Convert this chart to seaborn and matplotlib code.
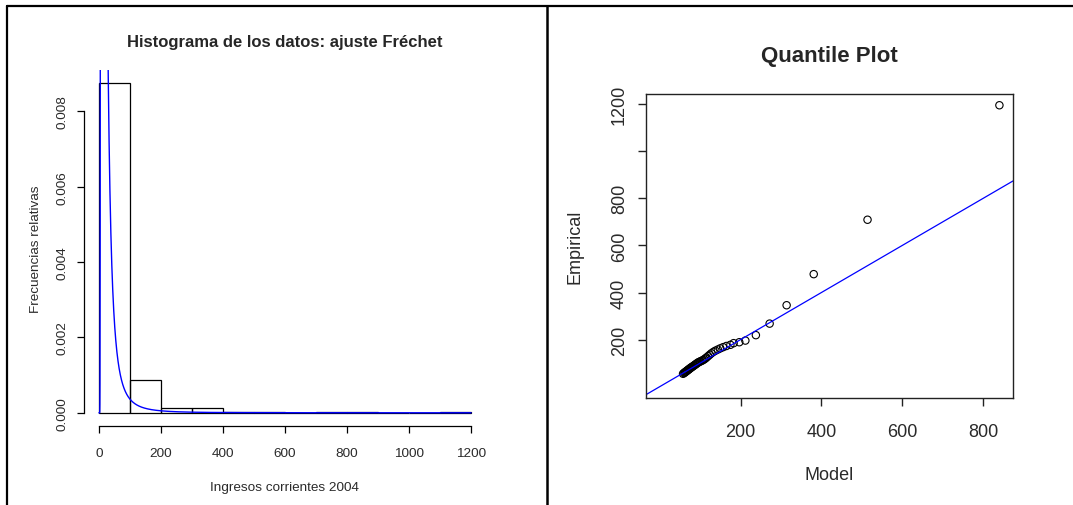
import numpy as np
import pandas as pd
import matplotlib
matplotlib.use("Agg")
import matplotlib.pyplot as plt
from matplotlib.lines import Line2D
import seaborn as sns

sns.set_theme(style="white")
plt.rcParams["font.family"] = ["Liberation Sans", "DejaVu Sans"]

# Histogram of incomes (relative frequency density per bin)
bin_edges = [0, 100, 200, 300, 400, 500, 600, 700, 800, 900, 1000, 1100, 1200]
bin_density = [0.00875, 0.00086, 0.00013, 0.00013, 0.00003, 0.00003,
               0.0, 0.00003, 0.00003, 0.0, 0.0, 0.00003]

# Fitted Fréchet parameters
frechet_shape = 1.8
frechet_scale = 11.6

# Quantile plot: model quantiles vs empirical quantiles
model_q = [58, 60, 62, 63, 65, 66, 68, 69, 71, 72, 74, 75, 77, 78, 80, 82,
           84, 86, 88, 90, 92, 94, 96, 99, 101, 104, 107, 110, 113, 116, 120,
           124, 128, 133, 138, 144, 150, 157, 165, 175, 183, 197, 212, 238,
           272, 314, 381, 514, 840]
empirical_q = [55, 58, 60, 62, 64, 66, 68, 70, 72, 74, 76, 78, 80, 82, 84, 86,
               89, 91, 94, 96, 99, 101, 104, 106, 108, 110, 113, 116, 120, 124,
               130, 136, 142, 148, 153, 158, 163, 168, 173, 178, 185, 189, 196,
               219, 268, 346, 478, 709, 1195]

W, H = 1073, 506
fig = plt.figure(figsize=(W / 100, H / 100), dpi=100)

def frac_box(x0, x1, y0, y1):
    return [x0 / W, 1 - y1 / H, (x1 - x0) / W, (y1 - y0) / H]

tick_col = "#2a2a2a"

# ---------------- left: histogram with Fréchet density ----------------
ax1 = fig.add_axes(frac_box(84, 486, 71, 427))
mids = [(a + b) / 2 for a, b in zip(bin_edges[:-1], bin_edges[1:])]
hist_df = pd.DataFrame({"x": mids, "w": bin_density})
sns.histplot(data=hist_df, x="x", weights="w", bins=bin_edges, stat="count",
             fill=False, color="black", linewidth=0.9, ax=ax1)

grid = np.linspace(0.5, 1200, 4000)
z = grid / frechet_scale
dens = (frechet_shape / frechet_scale) * z ** (-1 - frechet_shape) * np.exp(-z ** (-frechet_shape))
grid = np.concatenate([[0.0], grid])
dens = np.concatenate([[0.0], dens])
sns.lineplot(x=grid, y=dens, color="#0000ff", linewidth=1.0, ax=ax1, sort=False)

ymax = max(bin_density)
ax1.set_xlim(-0.04 * 1200, 1.04 * 1200)
ax1.set_ylim(-0.04 * ymax, 1.04 * ymax)
for s in ["top", "right"]:
    ax1.spines[s].set_visible(False)
ax1.spines["left"].set_bounds(0, 0.008)
ax1.spines["bottom"].set_bounds(0, 1200)
for s in ["left", "bottom"]:
    ax1.spines[s].set_color("black")
    ax1.spines[s].set_linewidth(0.9)
ax1.set_xticks([0, 200, 400, 600, 800, 1000, 1200])
ax1.set_yticks([0.0, 0.002, 0.004, 0.006, 0.008])
ax1.set_yticklabels(["0.000", "0.002", "0.004", "0.006", "0.008"],
                    rotation=90, va="center")
ax1.tick_params(axis="both", direction="out", length=5, width=0.9,
                colors="black", labelcolor=tick_col, labelsize=9.7,
                bottom=True, left=True)
ax1.tick_params(axis="x", pad=10)
ax1.tick_params(axis="y", pad=6)
ax1.set_title("Histograma de los datos: ajuste Fréchet", fontsize=12,
              fontweight="bold", pad=17)
ax1.set_xlabel("Ingresos corrientes 2004", fontsize=9.7, color=tick_col, labelpad=16)
ax1.set_ylabel("Frecuencias relativas", fontsize=9.7, color=tick_col, labelpad=10.5)

# ---------------- right: quantile plot ----------------
ax2 = fig.add_axes(frac_box(646, 1013, 95, 399))
qq_df = pd.DataFrame({"Model": model_q, "Empirical": empirical_q})
sns.scatterplot(data=qq_df, x="Model", y="Empirical", marker="o", s=28,
                facecolor="none", edgecolor="black", linewidth=0.8, ax=ax2)
ax2.margins(0.04)
ax2.axline((0, 0), slope=1, color="#0000ff", linewidth=0.9)
for s in ax2.spines.values():
    s.set_color("#222222")
    s.set_linewidth(1.0)
ax2.set_xticks([200, 400, 600, 800])
ax2.set_yticks([200, 400, 600, 800, 1000, 1200])
ax2.set_yticklabels(["200", "400", "600", "800", "", "1200"],
                    rotation=90, va="center")
ax2.tick_params(axis="both", direction="out", length=6, width=1.0,
                colors="#222222", labelcolor=tick_col, labelsize=13,
                bottom=True, left=True)
ax2.tick_params(axis="x", pad=12)
ax2.tick_params(axis="y", pad=7)
ax2.set_title("Quantile Plot", fontsize=16, fontweight="bold", pad=24)
ax2.set_xlabel("Model", fontsize=13, color=tick_col, labelpad=18.5)
ax2.set_ylabel("Empirical", fontsize=13, color=tick_col, labelpad=20)

# panel frame lines
fig.add_artist(Line2D([7 / W, 1], [1 - 7 / H, 1 - 7 / H], color="black", linewidth=1.6))
fig.add_artist(Line2D([7 / W, 7 / W], [0, 1 - 7 / H], color="black", linewidth=1.6))
fig.add_artist(Line2D([546.5 / W, 546.5 / W], [0, 1 - 7 / H], color="black", linewidth=1.8))

fig.savefig("out.png", dpi=100)
